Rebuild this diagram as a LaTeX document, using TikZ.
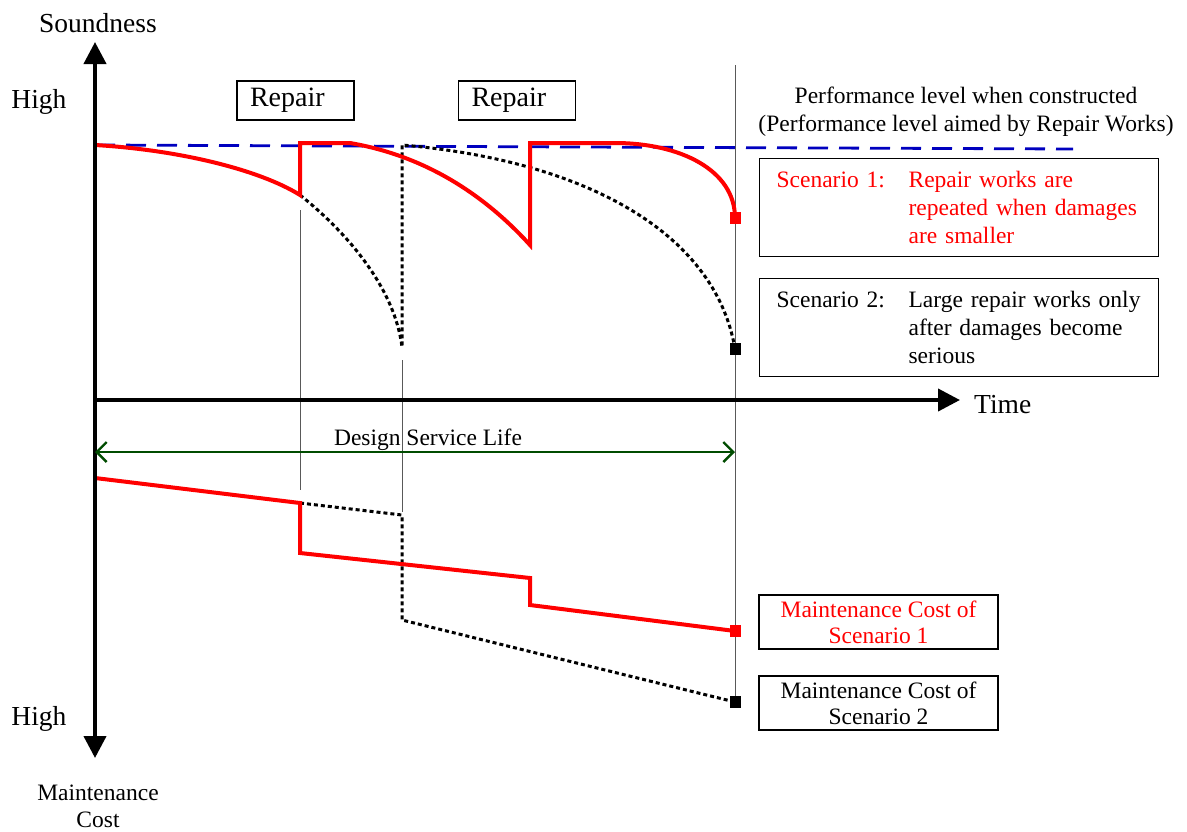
\documentclass[tikz,border=0pt]{standalone}
\usepackage{fontspec}
\setmainfont{Liberation Serif}
\usetikzlibrary{arrows.meta}
\begin{document}
\begin{tikzpicture}[x=1pt,y=-1pt,
  lbl/.style={inner sep=0pt,font=\fontsize{23.5}{28}\selectfont},
  biglbl/.style={inner sep=0pt,font=\fontsize{27.5}{30}\selectfont},
  axisline/.style={line width=4pt,black},
  thinline/.style={line width=1pt,black!65},
  redline/.style={line width=4pt,red,line join=miter},
  blkdot/.style={line width=3pt,black,dash pattern=on 4pt off 3pt},
  bluedash/.style={line width=2.8pt,blue!75!black,dash pattern=on 20pt off 11pt},
  repairbox/.style={draw,line width=1.2pt,minimum width=117pt,minimum height=39pt,text width=91pt,inner xsep=13pt,inner ysep=0pt,align=left,font=\fontsize{28}{30}\selectfont},
  scbox/.style={draw,line width=1.2pt,anchor=north west,minimum width=399pt,minimum height=98pt,text width=365pt,inner xsep=17pt,inner ysep=0pt,align=left,font=\fontsize{23.5}{28}\selectfont},
  costbox/.style={draw,line width=1.2pt,minimum width=239pt,minimum height=54pt,inner sep=0pt,align=center,font=\fontsize{23.5}{26}\selectfont},
  sq/.style={rectangle,minimum width=11pt,minimum height=12pt,inner sep=0pt},
  life/.style={line width=2.4pt,draw=green!30!black,{Straight Barb[length=10pt,width=20pt]}-{Straight Barb[length=10pt,width=20pt]}}
]
\useasboundingbox (0,0) rectangle (1187,831);

% axis coordinates
\coordinate (top) at (95,42);
\coordinate (bot) at (95,758);
\coordinate (O) at (95,400);
\coordinate (xend) at (960,400);

% thin vertical guide lines
\coordinate (g1a) at (300,210); \coordinate (g1b) at (300,490);
\coordinate (g2a) at (402,360); \coordinate (g2b) at (402,512);
\coordinate (g3a) at (735,65);  \coordinate (g3b) at (735,705);
\draw[thinline] (g1a) -- (g1b);
\draw[thinline] (g2a) -- (g2b);
\draw[thinline] (g3a) -- (g3b);

% blue target level
\coordinate (b1) at (95,145); \coordinate (b2) at (1073,149);
\draw[bluedash] (b1) -- (b2);

% scenario 2 (black dotted) soundness
\draw[blkdot] (300,195) .. controls (350,235) and (395,290) .. (402,347)
  -- (402,145) .. controls (580,160) and (715,230) .. (735,349);

% scenario 1 (red) soundness
\draw[redline] (95,145) .. controls (180,150) and (260,170) .. (300,195)
  -- (300,143) -- (350,143) .. controls (420,155) and (480,190) .. (530,245)
  -- (530,143) -- (615,143) .. controls (680,143) and (735,170) .. (735,218);

% maintenance cost curves
\draw[blkdot] (300,503) -- (402,515) -- (402,620) -- (735,702);
\draw[redline] (95,478) -- (300,503) -- (300,553) -- (530,578) -- (530,605) -- (735,631);

% end markers
\node[sq,fill=red] (m1) at (735,218) {};
\node[sq,fill=black] (m2) at (735,349) {};
\node[sq,fill=red] (m3) at (735,631) {};
\node[sq,fill=black] (m4) at (735,702) {};

% axes
\draw[axisline,{Triangle[width=22pt,length=22pt]}-{Triangle[width=22pt,length=22pt]}] (bot) -- (top);
\draw[axisline,-{Triangle[width=22pt,length=22pt]}] (O) -- (xend);

% design service life
\coordinate (l1) at (95,452); \coordinate (l2) at (735,452);
\draw[life] (l1) -- (l2);
\node[lbl,anchor=base] (dsl) at (428,445) {Design Service Life};

% axis labels
\node[biglbl,anchor=base] (snd) at (98,32) {Soundness};
\node[biglbl,anchor=base] (hi1) at (39,108) {High};
\node[biglbl,anchor=base] (hi2) at (39,725) {High};
\node[biglbl,anchor=base west] (time) at (974,413) {Time};
\node[lbl,anchor=base] (mc1) at (98,800) {Maintenance};
\node[lbl,anchor=base] (mc2) at (98,827) {Cost};

% repair boxes
\node[repairbox] (rep1) at (295.5,100.5) {Repair};
\node[repairbox] (rep2) at (517,100.5) {Repair};

% performance level text
\node[lbl,align=center] (perf) at (966,111.5) {Performance level when constructed\\(Performance level aimed by Repair Works)};

% scenario boxes
\node[scbox,text=red] (sc1) at (759,158) {\makebox[132pt][l]{Scenario 1:}Repair works are\\\hspace*{132pt}repeated when damages\\\hspace*{132pt}are smaller};
\node[scbox] (sc2) at (759,278) {\makebox[132pt][l]{Scenario 2:}Large repair works only\\\hspace*{132pt}after damages become\\\hspace*{132pt}serious};

% cost boxes
\node[costbox,text=red] (cb1) at (878.5,622) {Maintenance Cost of\\Scenario 1};
\node[costbox] (cb2) at (878.5,703) {Maintenance Cost of\\Scenario 2};
\end{tikzpicture}
\end{document}
